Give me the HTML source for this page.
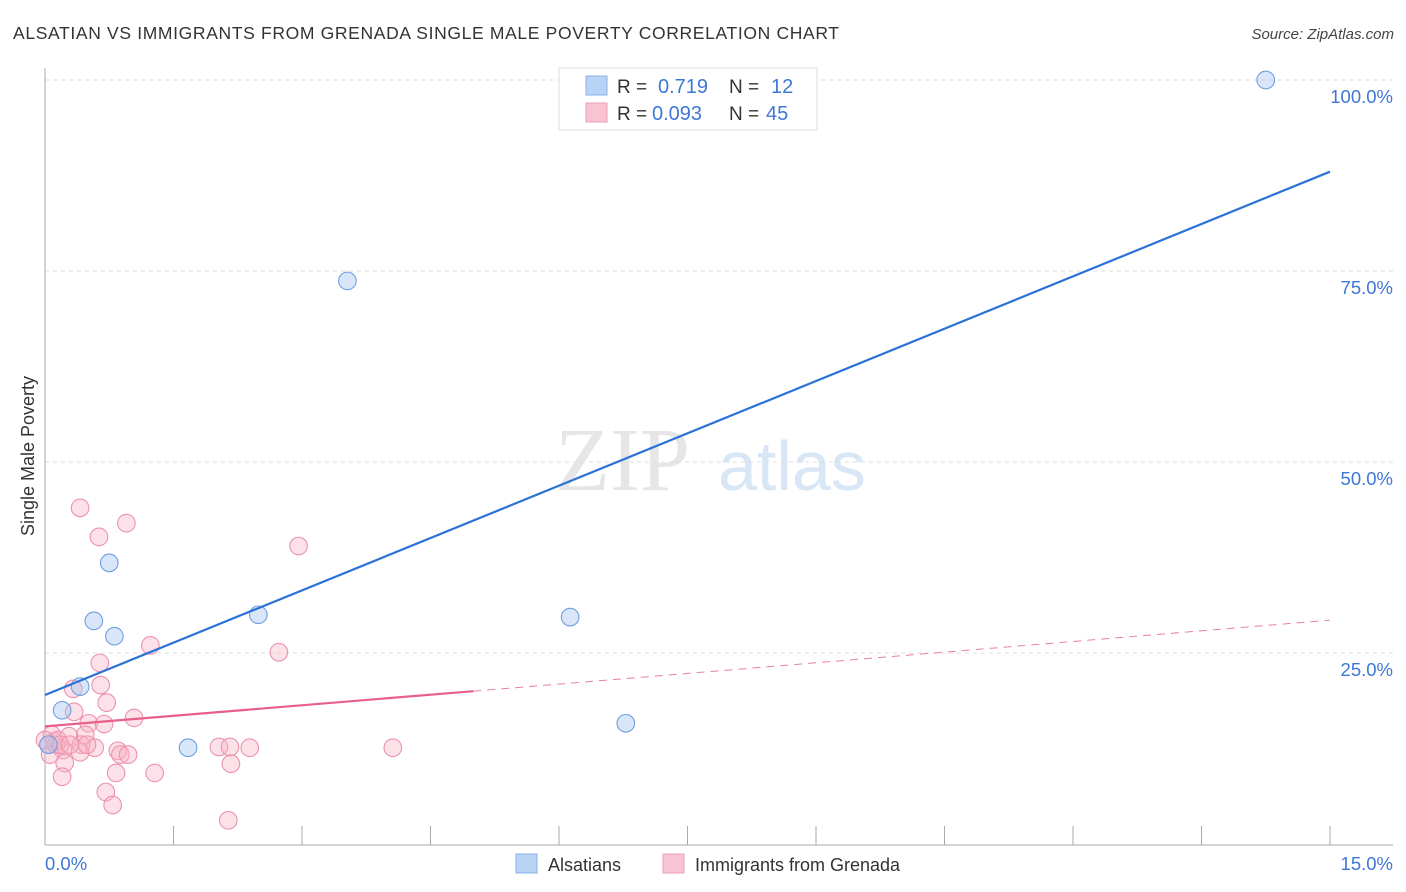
<!DOCTYPE html>
<html><head><meta charset="utf-8"><style>
body{margin:0;background:#fff;font-family:"Liberation Sans",sans-serif}
svg{display:block}
</style></head><body>
<svg id="chart" width="1406" height="892">
<text x="13" y="39" font-size="17.5" fill="#333" textLength="826" lengthAdjust="spacing">ALSATIAN VS IMMIGRANTS FROM GRENADA SINGLE MALE POVERTY CORRELATION CHART</text>
<text x="1394" y="39" font-size="15" fill="#444" font-style="italic" text-anchor="end">Source: ZipAtlas.com</text>
<text x="34" y="456" font-size="18" fill="#333" text-anchor="middle" transform="rotate(-90 34 456)">Single Male Poverty</text>
<g><text x="555" y="490" font-size="90" font-family="Liberation Serif,serif" fill="#e6e6e6">ZIP</text><text x="718" y="490" font-size="70" fill="#d9e6f5">atlas</text></g>
<g id="grid"></g><g id="marks"></g>
<g>
<rect x="559" y="68" width="258" height="62" fill="#fff" stroke="#ddd"/>
<rect x="586" y="76" width="21" height="19" fill="#b8d3f4" stroke="#8ab2e6"/>
<rect x="586" y="103" width="21" height="19" fill="#f8c4d3" stroke="#eba0b6"/>
<text x="617" y="93" font-size="19" fill="#333">R = </text><text x="658" y="93" font-size="20" fill="#3e78d6">0.719</text>
<text x="729" y="93" font-size="19" fill="#333">N = </text><text x="771" y="93" font-size="20" fill="#3e78d6">12</text>
<text x="617" y="120" font-size="19" fill="#333">R = </text><text x="652" y="120" font-size="20" fill="#3e78d6">0.093</text>
<text x="729" y="120" font-size="19" fill="#333">N = </text><text x="766" y="120" font-size="20" fill="#3e78d6">45</text>
</g>
<g>
<rect x="516" y="854" width="21" height="19" fill="#b8d3f4" stroke="#8ab2e6"/>
<text x="548" y="871" font-size="18" fill="#333">Alsatians</text>
<rect x="663" y="854" width="21" height="19" fill="#f8c4d3" stroke="#eba0b6"/>
<text x="695" y="871" font-size="18" fill="#333">Immigrants from Grenada</text>
</g>
</svg>
<script>
const blueX=[14.25,3.53,0.75,0.57,0.81,2.49,6.13,0.41,0.20,1.67,6.78,0.04];
const blueY=[100.0,73.7,36.8,29.2,27.2,30.0,29.7,20.6,17.5,12.6,15.8,13.0];
const pinkX=[0.41,0.95,0.63,2.96,1.23,2.73,0.64,0.33,0.65,0.72,0.34,1.04,0.51,0.69,0.47,0.11,0.28,0.58,0.85,0.42,0.21,0.04,0.13,0.41,2.03,2.16,2.39,4.06,0.88,0.83,1.28,2.17,0.23,0.20,0.71,0.79,2.14,0.08,0.15,0.0,0.06,0.49,0.18,0.97,0.29];
const pinkY=[44.0,42.0,40.2,39.0,26.0,25.1,23.7,20.3,20.8,18.5,17.3,16.5,15.8,15.7,14.3,13.4,14.1,12.6,12.2,13.0,12.3,13.0,13.0,12.0,12.7,12.7,12.6,12.6,11.7,9.3,9.3,10.5,10.6,8.8,6.8,5.1,3.1,14.3,13.6,13.6,11.7,13.0,13.0,11.7,13.0];
const blueLine=[[0,19.5],[15,88.0]];
const pinkLine=[[0,15.4],[5.0,20.0]];
const pinkDash=[[5.0,20.0],[15,29.3]];
const yTicks=[25,50,75,100];
const xTicks=[0,1.5,3,4.5,6,7.5,9,10.5,12,13.5,15];
const NS="http://www.w3.org/2000/svg";
const sx=v=>45+v/15*1285, sy=v=>844-v/100*764;
function mk(tag,attrs,parent){const e=document.createElementNS(NS,tag);for(const k in attrs)e.setAttribute(k,attrs[k]);parent.appendChild(e);return e;}
const grid=document.getElementById('grid'),marks=document.getElementById('marks');
yTicks.forEach(t=>{
 const l=mk('line',{x1:45,x2:1393,y1:sy(t),y2:sy(t),stroke:'#ddd','stroke-dasharray':'4,4'},grid);
 
 
 const tx=mk('text',{x:1393,y:sy(t)+23,'font-size':18.5,fill:'#3e78d6','text-anchor':'end'},grid);
 tx.textContent=t.toFixed(1)+'%';
 
 
});
mk('line',{x1:45,x2:45,y1:68,y2:845,stroke:'#aaa'},grid);
mk('line',{x1:45,x2:1393,y1:845,y2:845,stroke:'#aaa'},grid);
xTicks.forEach(t=>{
 const l=mk('line',{x1:sx(t),x2:sx(t),y1:826,y2:845,stroke:'#aaa'},grid);
 
 
});
[[0,45,'start'],[15,1393,'end']].forEach(([v,x,a])=>{
 const tx=mk('text',{x:x,y:870,'font-size':18.5,fill:'#3e78d6','text-anchor':a},grid);
 tx.textContent=v.toFixed(1)+'%';
 
 
});
pinkX.forEach((x,i)=>{
 const c=mk('circle',{cx:sx(x),cy:sy(pinkY[i]),r:8.8,fill:'rgba(248,180,200,0.4)',stroke:'#eb93ad','stroke-width':1.1},marks);
 
 
});
blueX.forEach((x,i)=>{
 const c=mk('circle',{cx:sx(x),cy:sy(blueY[i]),r:8.8,fill:'rgba(170,200,242,0.45)',stroke:'#6f9fe0','stroke-width':1.1},marks);
 
 
});
const bl=mk('line',{x1:sx(blueLine[0][0]),y1:sy(blueLine[0][1]),x2:sx(blueLine[1][0]),y2:sy(blueLine[1][1]),stroke:'#2a72d8','stroke-width':2.2},marks);


const pl=mk('line',{x1:sx(pinkLine[0][0]),y1:sy(pinkLine[0][1]),x2:sx(pinkLine[1][0]),y2:sy(pinkLine[1][1]),stroke:'#e8608a','stroke-width':2.2},marks);


const pd=mk('line',{x1:sx(pinkDash[0][0]),y1:sy(pinkDash[0][1]),x2:sx(pinkDash[1][0]),y2:sy(pinkDash[1][1]),stroke:'#e8809f','stroke-width':1,'stroke-dasharray':'8,6'},marks);


</script>
</body></html>
